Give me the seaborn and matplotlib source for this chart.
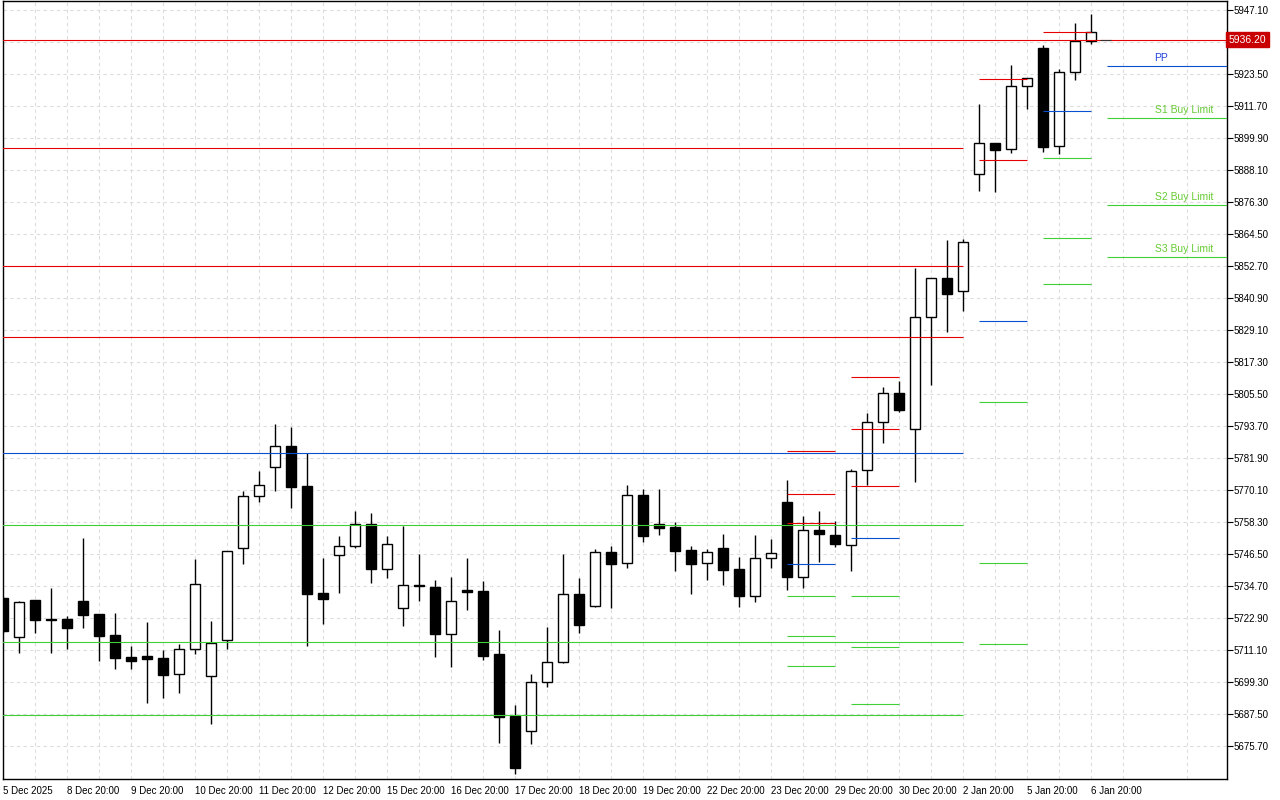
import matplotlib
matplotlib.use('Agg')
import matplotlib.pyplot as plt
import matplotlib.transforms as mtransforms
import seaborn as sns
import pandas as pd

# H6 candles
opens = [5730.3, 5716.1, 5729.6, 5722.6, 5722.7, 5729.3, 5724.5, 5716.8, 5708.7, 5709.0,
         5708.3, 5702.3, 5711.5, 5701.5, 5714.8, 5748.8, 5767.9, 5778.6, 5786.4, 5771.7,
         5732.2, 5746.1, 5749.5, 5757.7, 5741.0, 5726.6, 5735.1, 5734.5, 5717.0, 5733.4,
         5733.0, 5709.8, 5686.9, 5681.3, 5699.3, 5706.9, 5731.9, 5727.3, 5747.2, 5743.2,
         5768.3, 5757.7, 5756.5, 5748.1, 5743.2, 5748.8, 5741.1, 5731.3, 5745.0, 5765.8,
         5738.3, 5755.5, 5753.5, 5749.8, 5777.4, 5795.2, 5806.1, 5792.6, 5833.8, 5848.2,
         5843.4, 5886.6, 5898.0, 5895.8, 5919.0, 5933.0, 5896.9, 5924.1, 5935.6]
highs = [5730.8, 5729.2, 5729.7, 5734.0, 5723.8, 5752.5, 5724.6, 5724.9, 5712.6, 5721.6,
         5711.2, 5713.5, 5744.8, 5721.9, 5747.7, 5769.8, 5777.2, 5794.5, 5793.5, 5783.7,
         5745.1, 5753.1, 5762.5, 5761.7, 5753.1, 5757.0, 5746.5, 5737.0, 5738.1, 5745.0,
         5736.7, 5718.6, 5691.0, 5702.4, 5719.8, 5746.5, 5737.8, 5748.5, 5749.5, 5772.0,
         5770.5, 5770.6, 5758.4, 5749.6, 5748.6, 5754.0, 5745.6, 5753.7, 5752.2, 5774.0,
         5760.6, 5762.6, 5758.6, 5778.1, 5798.5, 5808.1, 5810.4, 5852.1, 5848.3, 5862.2,
         5862.7, 5912.3, 5898.1, 5926.8, 5922.0, 5934.2, 5925.4, 5942.3, 5945.6]
lows = [5717.5, 5710.0, 5717.6, 5710.2, 5711.6, 5719.5, 5707.3, 5704.3, 5704.3, 5691.8,
        5693.7, 5695.5, 5709.7, 5683.9, 5711.7, 5743.0, 5765.9, 5769.9, 5763.7, 5712.8,
        5720.9, 5732.4, 5748.7, 5736.0, 5737.9, 5720.2, 5729.4, 5708.8, 5705.1, 5726.1,
        5707.6, 5677.1, 5665.6, 5676.7, 5697.7, 5706.6, 5717.6, 5727.0, 5726.8, 5741.3,
        5751.2, 5753.7, 5740.5, 5731.9, 5737.0, 5735.2, 5727.2, 5729.0, 5741.5, 5733.5,
        5734.0, 5743.5, 5749.1, 5740.5, 5772.2, 5787.7, 5799.0, 5773.3, 5809.0, 5828.5,
        5836.3, 5880.5, 5880.1, 5894.5, 5910.7, 5894.9, 5894.1, 5921.4, 5934.5]
closes = [5718.4, 5728.8, 5722.3, 5722.4, 5719.5, 5724.2, 5716.5, 5708.4, 5707.3, 5707.9,
          5702.1, 5711.5, 5735.5, 5713.8, 5747.6, 5767.9, 5771.9, 5786.3, 5771.4, 5732.0,
          5730.1, 5749.5, 5757.7, 5741.0, 5750.2, 5735.1, 5735.0, 5717.2, 5729.2, 5732.7,
          5709.1, 5686.7, 5667.9, 5699.3, 5706.7, 5731.8, 5720.6, 5747.2, 5743.0, 5768.3,
          5753.4, 5756.2, 5747.8, 5743.0, 5747.3, 5740.9, 5731.3, 5745.0, 5746.8, 5738.3,
          5755.3, 5754.0, 5750.4, 5777.1, 5795.2, 5806.1, 5799.8, 5833.8, 5848.2, 5842.6,
          5861.5, 5898.0, 5895.6, 5919.0, 5921.9, 5896.7, 5924.1, 5935.6, 5939.1]

date_labels = ['5 Dec 2025', '8 Dec 20:00', '9 Dec 20:00', '10 Dec 20:00', '11 Dec 20:00',
               '12 Dec 20:00', '15 Dec 20:00', '16 Dec 20:00', '17 Dec 20:00', '18 Dec 20:00',
               '19 Dec 20:00', '22 Dec 20:00', '23 Dec 20:00', '29 Dec 20:00', '30 Dec 20:00',
               '2 Jan 20:00', '5 Jan 20:00', '6 Jan 20:00']

# weekly pivots (drawn up to candle 60)
week_levels = [5896.2, 5852.8, 5826.6, 5783.8, 5757.3, 5714.2, 5687.3]
week_kinds = ['R', 'R', 'R', 'PP', 'S', 'S', 'S']
week_end = 60

# daily pivots: start/end candle, levels, kinds
day_starts = [49, 53, 61, 65, 69]
day_ends = [52, 56, 64, 68, 77]
day_levels = [[5784.4, 5768.9, 5757.9, 5742.8, 5731.3, 5716.3, 5705.2],
              [5811.7, 5792.6, 5771.5, 5752.4, 5731.3, 5712.2, 5691.2],
              [5921.6, 5891.7, 5832.4, 5802.6, 5743.3, 5713.5],
              [5938.9, 5909.9, 5892.5, 5863.0, 5846.0],
              [5926.4, 5907.3, 5875.1, 5856.0]]
day_kinds = [['R', 'R', 'R', 'PP', 'S', 'S', 'S'],
             ['R', 'R', 'R', 'PP', 'S', 'S', 'S'],
             ['R', 'R', 'PP', 'S', 'S', 'S'],
             ['R', 'PP', 'S', 'S', 'S'],
             ['PP', 'S', 'S', 'S']]
current_labels = ['PP', 'S1 Buy Limit', 'S2 Buy Limit', 'S3 Buy Limit']

last_price = 5936.20
ytick_top = 5947.10
ytick_step = 11.8

level_colors = {'R': '#e60000', 'PP': '#0a4fd0', 'S': '#3fcf36'}

df = pd.DataFrame({'open': opens, 'high': highs, 'low': lows, 'close': closes})
df['x'] = range(len(df))
df['up'] = df['close'] >= df['open']

sns.set_style('white')
plt.rcParams['font.family'] = ['Liberation Sans', 'DejaVu Sans']

fig = plt.figure(figsize=(12.8, 8), dpi=100)
ax = fig.add_axes([3 / 1280, 21 / 800, 1224 / 1280, 778 / 800])

# candles
ax.vlines(df['x'], df['low'], df['high'], color='black', linewidth=1.0, zorder=2)
body_low = df[['open', 'close']].min(axis=1)
body_h = (df['close'] - df['open']).abs().clip(lower=0.05)
ax.bar(df['x'], body_h, bottom=body_low, width=0.625,
       color=['white' if u else 'black' for u in df['up']],
       edgecolor='black', linewidth=1.0, zorder=3)

# pivot levels
for lv, kd in zip(week_levels, week_kinds):
    ax.hlines(lv, -1, week_end, color=level_colors[kd], linewidth=0.8, zorder=4)
for s, e, lvls, kds in zip(day_starts, day_ends, day_levels, day_kinds):
    for lv, kd in zip(lvls, kds):
        ax.hlines(lv, s, e, color=level_colors[kd], linewidth=0.8, zorder=4)
for lv, kd, txt in zip(day_levels[-1], day_kinds[-1], current_labels):
    ax.text(72, lv + 1.2, txt, color='#2244dd' if kd == 'PP' else '#66cc33',
            fontsize=7.5, ha='left', va='bottom', zorder=5)

# current price line
ax.axhline(last_price, color='#e60000', linewidth=0.8, zorder=4)
ax.hlines(last_price, 68.6, 69.25, color='#333333', linewidth=0.8, zorder=5)

ax.set_xlim(0.03, 76.53)
ax.set_ylim(5663.7, 5950.4)

yt = [round(ytick_top - ytick_step * i, 2) for i in range(24)]
ax.set_yticks(yt)
# the tick hidden under the price box gets no text
ax.set_yticklabels(['' if abs(v - last_price) < 2 else f'{v:.2f}' for v in yt])
ax.yaxis.tick_right()
ax.set_xticks(range(0, len(df), 4))
ax.set_xticklabels(date_labels, ha='left')
ax.set_xticks(range(2, 77, 4), minor=True)
ax.tick_params(axis='both', which='major', direction='out', length=4, width=0.8,
               labelsize=7, colors='black', pad=1)
ax.tick_params(axis='x', which='minor', length=0)
ax.grid(True, which='both', color='#dcdcdc', linestyle=(0, (3, 3)), linewidth=0.8)
ax.set_axisbelow(True)
for sp in ax.spines.values():
    sp.set_color('black')
    sp.set_linewidth(1.0)
    sp.set_visible(True)

trans = mtransforms.blended_transform_factory(ax.transAxes, ax.transData)
ax.text(1.0015, last_price, f'{last_price:.2f}', transform=trans, color='white', fontsize=7.5,
        ha='left', va='center', zorder=10, clip_on=False,
        bbox=dict(boxstyle='square,pad=0.25', fc='#c80000', ec='#c80000'))

fig.savefig('out.png', dpi=100)
